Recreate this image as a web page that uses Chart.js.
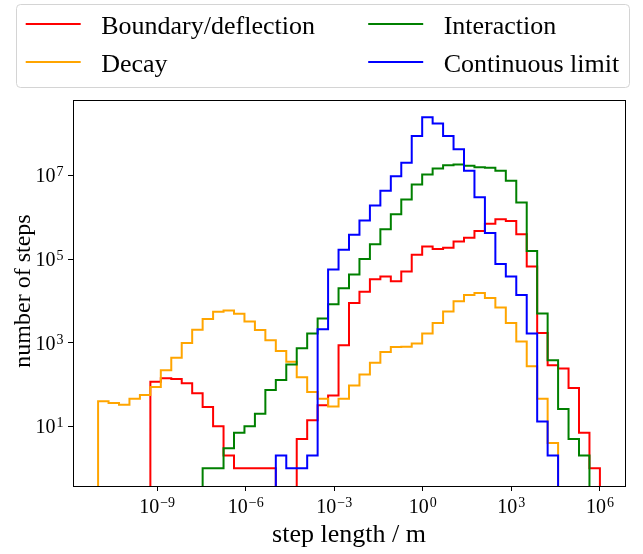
<!DOCTYPE html>
<html>
<head>
<meta charset="utf-8">
<script src="https://cdn.jsdelivr.net/npm/chart.js@4.4.1/dist/chart.umd.min.js"></script>
<style>
  html, body { margin: 0; padding: 0; background: #fff; }
</style>
</head>
<body>
<canvas id="myChart" width="643" height="554"></canvas>
<script>
// log-spaced bins, 1e-11 m .. 1e6 m, 48 bins
const binExpMin = -11;
const binExpMax = 6;
const binCount = 48;
const binEdges = [];
for (let i = 0; i <= binCount; i++) {
    binEdges.push(Math.pow(10, binExpMin + i * (binExpMax - binExpMin) / binCount));
}

const seriesNames = ['Boundary/deflection', 'Decay', 'Interaction', 'Continuous limit'];
const seriesColors = ['red', 'orange', 'green', 'blue'];

// counts per bin
const boundaryCounts = [0, 0, 0, 0, 0, 117, 141, 135, 107, 62,
    29, 10, 2, 1, 1, 1, 1, 0, 0, 5,
    14, 32, 55, 870, 8900, 16600, 33000, 38000, 29500, 50000,
    126000, 200000, 174000, 186000, 263000, 324000, 468000, 692000, 891000, 813000,
    389000, 66000, 1700, 288, 240, 83, 7, 1];
const decayCounts = [40, 36, 33, 46, 56, 87, 219, 437, 977, 2040,
    3700, 5500, 5900, 4900, 3200, 2000, 1150, 630, 350, 150,
    66, 46, 30, 46, 95, 174, 330, 600, 790, 800,
    950, 1660, 2950, 5600, 9800, 13800, 15500, 11700, 6900, 2950,
    1070, 275, 46, 4, 0, 0, 0, 0];
const interactionCounts = [0, 0, 0, 0, 0, 0, 0, 0, 0, 0,
    1, 1, 3, 7, 10, 20, 74, 129, 302, 741,
    1660, 3800, 8300, 20000, 42700, 100000, 224000, 513000, 1170000, 2630000,
    6000000, 10500000, 14500000, 17400000, 18200000, 17000000, 15500000, 15100000, 12900000, 7400000,
    2240000, 155000, 5000, 380, 26, 5, 2, 0];
const continuousCounts = [0, 0, 0, 0, 0, 0, 0, 0, 0, 0,
    0, 0, 0, 0, 0, 0, 0, 2, 1, 1,
    2, 2100, 56000, 166000, 380000, 832000, 1900000, 4270000, 9550000, 20000000,
    87000000, 245000000, 174000000, 87000000, 42000000, 12900000, 3000000, 417000, 76000, 38000,
    13800, 1660, 13, 2, 0, 0, 0, 0];

const xTickExps = [-9, -6, -3, 0, 3, 6];
const yTickExps = [1, 3, 5, 7];
const xLimExp = [-11.85, 6.85];
const yLimExp = [-0.425, 8.8];

const FLOOR = 1e-3; // below the axis, so empty bins drop out of view

function stepPoints(counts)
{
    let first = counts.findIndex(v => v > 0);
    let last = counts.length - 1;
    while (last > 0 && !(counts[last] > 0)) last--;
    const pts = [{x: binEdges[first], y: FLOOR}];
    for (let i = first; i <= last; i++) {
        pts.push({x: binEdges[i], y: counts[i] > 0 ? counts[i] : FLOOR});
    }
    pts.push({x: binEdges[last + 1], y: counts[last]});
    pts.push({x: binEdges[last + 1], y: FLOOR});
    return pts;
}

const allCounts = [boundaryCounts, decayCounts, interactionCounts, continuousCounts];
const datasets = allCounts.map((counts, k) => ({
    label: seriesNames[k],
    data: stepPoints(counts),
    borderColor: seriesColors[k],
    backgroundColor: seriesColors[k],
    borderWidth: 2,
    stepped: 'before',   // horizontal at bin value, then vertical at the next edge
    fill: false,
    pointRadius: 0,
    clip: 0,
    order: 4 - k
}));

const SERIF = '"Liberation Serif", "Times New Roman", serif';

function drawPow(ctx, exp, x, y, align)
{
    const base = '10';
    const sup = exp < 0 ? '\u2212' + (-exp) : String(exp);
    ctx.font = '20px ' + SERIF;
    const wb = ctx.measureText(base).width;
    ctx.font = '14px ' + SERIF;
    const ws = ctx.measureText(sup).width;
    const total = wb + 1 + ws;
    const x0 = align === 'center' ? x - total / 2 : x - total;
    ctx.textAlign = 'left';
    ctx.textBaseline = 'alphabetic';
    ctx.font = '20px ' + SERIF;
    ctx.fillText(base, x0, y);
    ctx.font = '14px ' + SERIF;
    ctx.fillText(sup, x0 + wb + 1, y - 6);
}

const decorations = {
    id: 'decorations',
    afterDraw(chart) {
        const ctx = chart.ctx;
        const ca = chart.chartArea;
        const xs = chart.scales.x, ys = chart.scales.y;
        ctx.save();

        // frame
        ctx.strokeStyle = '#000';
        ctx.lineWidth = 1;
        ctx.strokeRect(Math.round(ca.left) + 0.5, Math.round(ca.top) + 0.5,
            Math.round(ca.right - ca.left), Math.round(ca.bottom - ca.top));

        // tick labels
        ctx.fillStyle = '#000';
        xTickExps.forEach(e => {
            drawPow(ctx, e, xs.getPixelForValue(Math.pow(10, e)), ca.bottom + 26.5, 'center');
        });
        yTickExps.forEach(e => {
            drawPow(ctx, e, ca.left - 9.5, ys.getPixelForValue(Math.pow(10, e)) + 7, 'right');
        });

        // axis titles
        ctx.font = '26px ' + SERIF;
        ctx.textAlign = 'center';
        ctx.fillText('step length / m', (ca.left + ca.right) / 2, 542);
        ctx.save();
        ctx.translate(29.5, (ca.top + ca.bottom) / 2 - 2);
        ctx.rotate(-Math.PI / 2);
        ctx.font = '24px ' + SERIF;
        ctx.fillText('number of steps', 0, 0);
        ctx.restore();

        // legend, two columns
        ctx.fillStyle = 'rgba(255,255,255,0.8)';
        ctx.strokeStyle = '#d4d4d4';
        ctx.beginPath();
        ctx.roundRect(16.5, 4.5, 613, 83, 4);
        ctx.fill();
        ctx.stroke();
        const colX = [25.7, 368.2];
        const rowY = [24, 62];
        ctx.font = '26px ' + SERIF;
        ctx.textAlign = 'left';
        datasets.forEach((ds, k) => {
            const c = Math.floor(k / 2), r = k % 2;
            ctx.strokeStyle = ds.borderColor;
            ctx.lineWidth = 2;
            ctx.beginPath();
            ctx.moveTo(colX[c], rowY[r]);
            ctx.lineTo(colX[c] + 55, rowY[r]);
            ctx.stroke();
            ctx.fillStyle = '#000';
            ctx.fillText(ds.label, colX[c] + 75.5, rowY[r] + 10.3);
        });
        ctx.restore();
    }
};

const ctx = document.getElementById('myChart');

chart = new Chart(ctx, {
type: 'line',
data: {
  datasets: datasets
},
options: {
  responsive: false,
  animation: false,
  layout: { padding: { top: 100, right: 18, left: 0, bottom: 0 } },
  plugins: { legend: { display: false }, tooltip: { enabled: false } },
  scales: {
    x: {
      type: 'logarithmic',
      min: Math.pow(10, xLimExp[0]),
      max: Math.pow(10, xLimExp[1]),
      afterBuildTicks: s => { s.ticks = xTickExps.map(e => ({ value: Math.pow(10, e) })); },
      afterFit: s => { s.height = 68; },
      ticks: { display: false },
      grid: { drawOnChartArea: false, drawTicks: true, tickLength: 5, color: '#000', lineWidth: 1 },
      border: { display: false }
    },
    y: {
      type: 'logarithmic',
      min: Math.pow(10, yLimExp[0]),
      max: Math.pow(10, yLimExp[1]),
      afterBuildTicks: s => { s.ticks = yTickExps.map(e => ({ value: Math.pow(10, e) })); },
      afterFit: s => { s.width = 73; },
      ticks: { display: false },
      grid: { drawOnChartArea: false, drawTicks: true, tickLength: 5, color: '#000', lineWidth: 1 },
      border: { display: false }
    }
  }
},
plugins: [decorations]
});
</script>
</body>
</html>
